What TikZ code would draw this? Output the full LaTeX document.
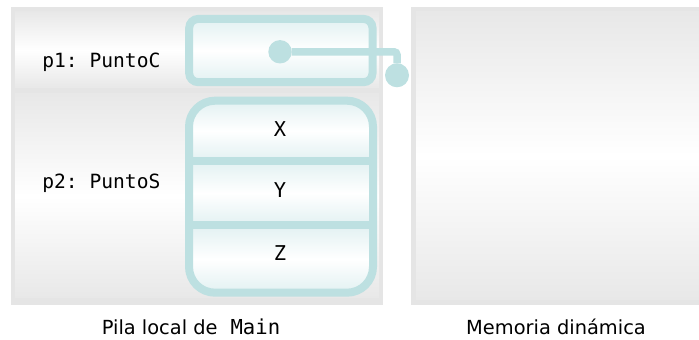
\documentclass[tikz,border=0pt]{standalone}
\usepackage{fontspec}
\setmainfont{DejaVu Sans}
\setmonofont{DejaVu Sans Mono}
\definecolor{cellline}{HTML}{BDE0E1}
\definecolor{celllight}{HTML}{E2F1F2}
\definecolor{panelgray}{HTML}{E5E5E5}
\definecolor{rowgray}{HTML}{E8E8E8}

\begin{document}
\begin{tikzpicture}[x=0.5pt, y=-0.5pt,
  row/.style={top color=rowgray, bottom color=rowgray, middle color=white},
  cellfill/.style={top color=celllight, bottom color=celllight, middle color=white},
  cell/.style={cellfill, draw=cellline, line width=4pt},
  code/.style={font=\fontsize{9.8}{12}\selectfont\ttfamily, inner sep=0pt},
  field/.style={font=\fontsize{10.2}{13}\selectfont\ttfamily, inner sep=0pt},
  caption/.style={font=\fontsize{9.7}{12}\selectfont, inner sep=0pt},
  knob/.style={circle, fill=cellline, inner sep=0pt, outer sep=0pt},
  link/.style={draw=cellline, line width=3.75pt, rounded corners=1.5pt}]
  \useasboundingbox (0,0) rectangle (699,340);

  % stack and heap panels
  \fill[panelgray] (11,7) rectangle (383,305);
  \shade[row] (15,12) rectangle (379,88);
  \shade[row] (15,94) rectangle (379,298);
  \fill[panelgray] (411,7) rectangle (699,305);
  \shade[row] (416,12) rectangle (699,300);

  \node[cell, rounded corners=4.5pt, minimum width=91.65pt, minimum height=31.65pt, outer sep=0pt] (p1box) at (280.85,50.55) {};

  \begin{scope}
    \clip[rounded corners=13pt] (189,100.7) rectangle (373,292.7);
    \shade[cellfill] (189,100.7) rectangle (373,161);
    \shade[cellfill] (189,161) rectangle (373,225.4);
    \shade[cellfill] (189,225.4) rectangle (373,292.7);
  \end{scope}
  \draw[draw=cellline, line width=4pt, rounded corners=13pt] (189,100.7) rectangle (373,292.7);
  \draw[draw=cellline, line width=4pt] (189,161) -- (373,161) (189,225.4) -- (373,225.4);

  \node[code, anchor=base west] (p1) at (42,68) {p1: PuntoC};
  \node[code, anchor=base west] (p2) at (42,189) {p2: PuntoS};
  \node[field, anchor=base] (x) at (280,137) {X};
  \node[field, anchor=base] (y) at (280,198) {Y};
  \node[field, anchor=base] (z) at (280,260.5) {Z};

  \node[knob, minimum size=11.7pt] (ptr) at (280,51.8) {};
  \node[knob, minimum size=12pt] (tip) at (397,75.3) {};
  \draw[link] (ptr) -| (tip);

  \node[caption, anchor=base] (stack) at (191,335) {Pila local de\hspace{6.5pt}{\fontsize{10.3}{12}\selectfont\ttfamily Main}};
  \node[caption, anchor=base] (heap) at (556,335) {Memoria dinámica};
\end{tikzpicture}
\end{document}
